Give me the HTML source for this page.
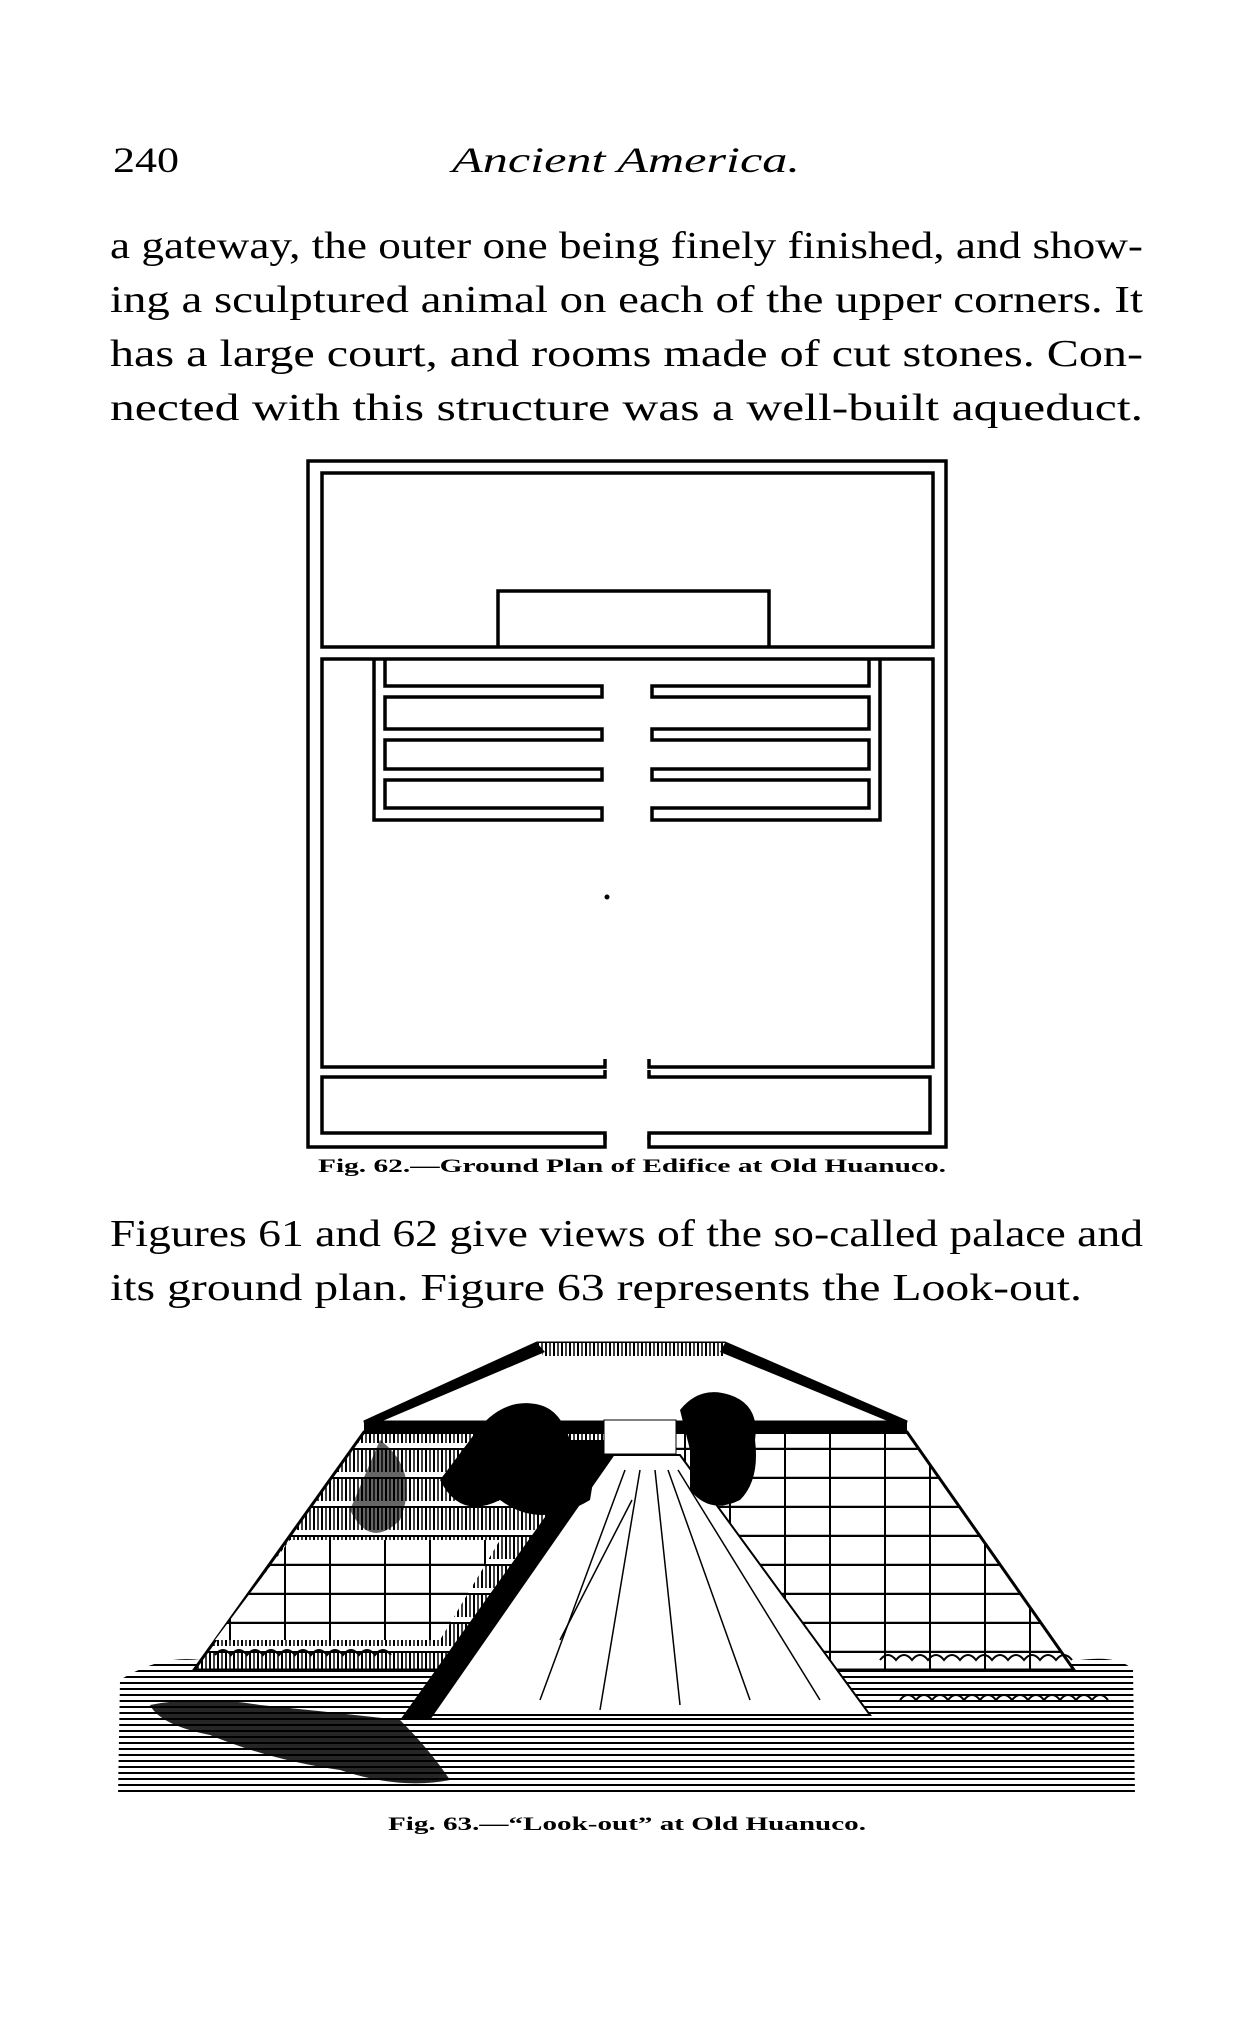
<!DOCTYPE html>
<html><head><meta charset="utf-8"><style>
html,body{margin:0;padding:0;background:#fff;}
svg{display:block;}
</style></head><body>
<svg width="1258" height="2042" viewBox="0 0 1258 2042" xmlns="http://www.w3.org/2000/svg">
<defs>
<pattern id="hatch" width="12" height="6" patternUnits="userSpaceOnUse">
<rect width="12" height="6" fill="#fff"/><line x1="0" y1="3" x2="12" y2="3" stroke="#000" stroke-width="2"/>
</pattern>
<pattern id="brickL" width="8" height="29" patternUnits="userSpaceOnUse">
<rect width="8" height="29" fill="#fff"/><line x1="2" y1="0" x2="2" y2="22" stroke="#000" stroke-width="2"/><line x1="6" y1="0" x2="6" y2="22" stroke="#000" stroke-width="1.5"/><line x1="0" y1="28" x2="8" y2="28" stroke="#000" stroke-width="2"/>
</pattern>
<pattern id="brickR" width="100" height="29" patternUnits="userSpaceOnUse">
<rect width="100" height="29" fill="#fff"/><line x1="0" y1="28" x2="100" y2="28" stroke="#000" stroke-width="2.5"/><line x1="30" y1="0" x2="30" y2="28" stroke="#000" stroke-width="2"/><line x1="85" y1="0" x2="85" y2="28" stroke="#000" stroke-width="2"/>
</pattern>
</defs>
<g font-family="'Liberation Serif', serif" fill="#000">
<text x="113" y="172" font-size="36" textLength="66" lengthAdjust="spacingAndGlyphs">240</text>
<text x="452" y="172" font-size="36" font-style="italic" textLength="348" lengthAdjust="spacingAndGlyphs">Ancient America.</text>
<g font-size="38">
<text x="110" y="258" textLength="1033" lengthAdjust="spacingAndGlyphs">a gateway, the outer one being finely finished, and show-</text>
<text x="110" y="312" textLength="1033" lengthAdjust="spacingAndGlyphs">ing a sculptured animal on each of the upper corners.  It</text>
<text x="110" y="366" textLength="1033" lengthAdjust="spacingAndGlyphs">has a large court, and rooms made of cut stones.  Con-</text>
<text x="110" y="420" textLength="1033" lengthAdjust="spacingAndGlyphs">nected with this structure was a well-built aqueduct.</text>
<text x="110" y="1246" textLength="1033" lengthAdjust="spacingAndGlyphs">Figures 61 and 62 give views of the so-called palace and</text>
<text x="110" y="1300" textLength="972" lengthAdjust="spacingAndGlyphs">its ground plan.   Figure 63 represents the Look-out.</text>
</g>
<text x="318" y="1172" font-size="19" font-weight="bold" textLength="628" lengthAdjust="spacingAndGlyphs">Fig. 62.—Ground Plan of Edifice at Old Huanuco.</text>
<text x="388" y="1830" font-size="19" font-weight="bold" textLength="478" lengthAdjust="spacingAndGlyphs">Fig. 63.—“Look-out” at Old Huanuco.</text>
</g>

<!-- Ground plan -->
<g fill="none" stroke="#000" stroke-width="3.5">
<path d="M605,1135 V1147 H308 V461 H946 V1147 H649 V1135"/>
<rect x="322" y="473" width="611" height="174"/>
<path d="M498,647 V591 H769 V647"/>
<path d="M605,1059 V1067 H322 V659 H933 V1067 H649 V1059"/>
<path d="M605,1070 V1077 H322 V1133 H605 V1140 M649,1140 V1133 H930 V1077 H649 V1070"/>
<path d="M385,659 V686 H602 V697 H385 V729 H602 V740 H385 V769 H602 V780 H385 V808 H602 V820 H374 V659"/>
<path d="M869,659 V686 H652 V697 H869 V729 H652 V740 H869 V769 H652 V780 H869 V808 H652 V820 H880 V659"/>
</g>
<circle cx="607" cy="897" r="2.5" fill="#000"/>

<!-- Look-out pyramid -->
<path d="M120,1680 Q160,1655 200,1660 L1080,1660 Q1120,1655 1133,1670 L1135,1795 L118,1795 Z" fill="url(#hatch)"/>
<polygon points="364,1432 620,1432 620,1670 194,1670" fill="url(#brickL)" stroke="#000" stroke-width="3"/>
<polygon points="620,1432 907,1432 1074,1670 620,1670" fill="url(#brickR)" stroke="#000" stroke-width="3"/>
<polygon points="290,1540 500,1540 440,1640 215,1640" fill="url(#brickR)"/>
<polygon points="537,1343 725,1343 907,1422 364,1422" fill="#fff" stroke="#000" stroke-width="3"/>
<polygon points="364,1422 907,1422 907,1434 364,1434" fill="#000"/>
<polygon points="537,1343 725,1343 725,1360 545,1360" fill="url(#brickL)"/>
<polygon points="537,1343 364,1422 380,1422 545,1352" fill="#000"/>
<polygon points="725,1343 907,1422 890,1422 720,1352" fill="#000"/>
<polygon points="610,1455 680,1455 870,1715 430,1715" fill="#fff" stroke="#000" stroke-width="2"/>
<g stroke="#000" stroke-width="1.5" fill="none">
<path d="M625,1470 L540,1700"/><path d="M640,1470 L600,1710"/><path d="M655,1470 L680,1705"/>
<path d="M668,1470 L750,1700"/><path d="M678,1470 L820,1700"/><path d="M632,1500 L560,1640"/>
</g>
<polygon points="600,1440 625,1440 430,1720 400,1720" fill="#000"/>
<path d="M470,1440 Q500,1395 540,1405 Q560,1410 570,1440 L600,1440 L590,1500 Q540,1530 500,1500 Q460,1520 440,1480 Z" fill="#000"/>
<path d="M680,1410 Q700,1385 730,1395 Q760,1405 755,1440 Q760,1480 740,1500 Q710,1515 690,1490 L690,1450 Z" fill="#000"/>
<rect x="604" y="1420" width="72" height="34" fill="#fff" stroke="#000" stroke-width="1"/>
<path d="M380,1440 Q420,1470 400,1520 Q370,1550 350,1510 Z" fill="#000" opacity="0.6"/>
<path d="M150,1705 Q200,1695 260,1705 Q330,1712 400,1720 Q430,1750 450,1780 Q400,1790 340,1770 Q270,1760 210,1735 Q160,1725 150,1705 Z" fill="#000" opacity="0.85"/>
<g fill="none" stroke="#000" stroke-width="2">
<path d="M215,1655 q8,-10 16,0 q8,-10 16,0 q8,-10 16,0 q8,-10 16,0 q8,-10 16,0 q8,-10 16,0 q8,-10 16,0 q8,-10 16,0 q8,-10 16,0 q8,-10 16,0 q8,-10 16,0"/>
<path d="M880,1660 q8,-10 16,0 q8,-10 16,0 q8,-10 16,0 q8,-10 16,0 q8,-10 16,0 q8,-10 16,0 q8,-10 16,0 q8,-10 16,0 q8,-10 16,0 q8,-10 16,0 q8,-10 16,0 q8,-10 16,0"/>
<path d="M900,1700 q8,-10 16,0 q8,-10 16,0 q8,-10 16,0 q8,-10 16,0 q8,-10 16,0 q8,-10 16,0 q8,-10 16,0 q8,-10 16,0 q8,-10 16,0 q8,-10 16,0 q8,-10 16,0 q8,-10 16,0 q8,-10 16,0"/>
</g>
</svg>
</body></html>
